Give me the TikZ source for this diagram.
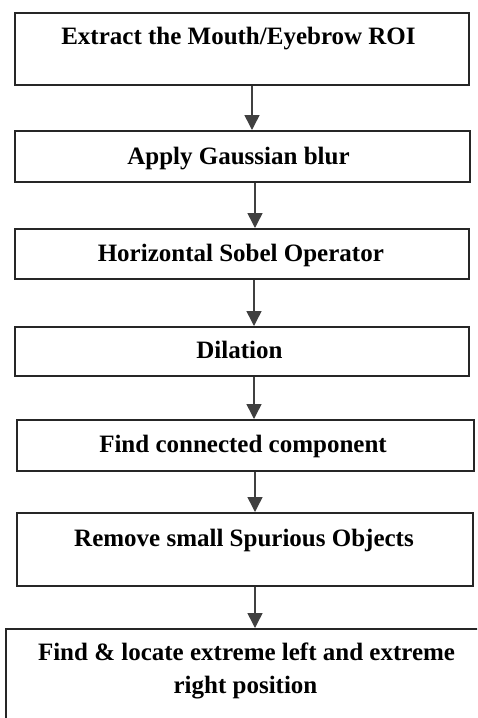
\documentclass[tikz,border=0pt]{standalone}
\usepackage{fontspec}
\setmainfont{Liberation Serif}
\usetikzlibrary{arrows.meta}
\begin{document}
\begin{tikzpicture}[x=1pt,y=-1pt,
  box/.style={draw=black!85, line width=1.6pt, fill=white, inner sep=0pt, anchor=north west},
  lbl/.style={font=\fontsize{25}{33}\selectfont\bfseries, inner sep=0pt, anchor=base, text=black},
  flow/.style={draw=black!75, line width=1.5pt, -{Triangle[width=15pt,length=15pt]}}]
\useasboundingbox (0,0) rectangle (477,718);
\fill[white] (0,0) rectangle (477,718);
\clip (0,0) rectangle (477,718);
% boxes
\node[box, minimum width=454pt, minimum height=72pt] (b1) at (14,12) {};
\node[box, minimum width=455pt, minimum height=51pt] (b2) at (14,130) {};
\node[box, minimum width=454pt, minimum height=50pt] (b3) at (14,228) {};
\node[box, minimum width=454pt, minimum height=49pt] (b4) at (14,326) {};
\node[box, minimum width=457pt, minimum height=51pt] (b5) at (16,419) {};
\node[box, minimum width=456pt, minimum height=73pt] (b6) at (16,512) {};
\node[box, minimum width=490pt, minimum height=120pt] (b7) at (5,628) {};
% labels
\node[lbl] (t1) at (238.5,44.5) {Extract the Mouth/Eyebrow ROI};
\node[lbl] (t2) at (238.5,164.5) {Apply Gaussian blur};
\node[lbl] (t3) at (240.8,261.7) {Horizontal Sobel Operator};
\node[lbl] (t4) at (239.5,358.3) {Dilation};
\node[lbl] (t5) at (243,452.7) {Find connected component};
\node[lbl] (t6) at (244,546.3) {Remove small Spurious Objects};
\node[lbl] (t7) at (246.5,660.7) {Find \& locate extreme left and extreme};
\node[lbl] (t8) at (245.5,693) {right position};
% connectors
\draw[flow] (b1.south -| 252,0) -- (b2.north -| 252,0);
\draw[flow] (b2.south -| 255,0) -- (b3.north -| 255,0);
\draw[flow] (b3.south -| 254,0) -- (b4.north -| 254,0);
\draw[flow] (b4.south -| 254,0) -- (b5.north -| 254,0);
\draw[flow] (b5.south -| 255,0) -- (b6.north -| 255,0);
\draw[flow] (b6.south -| 255,0) -- (b7.north -| 255,0);
\end{tikzpicture}
\end{document}
